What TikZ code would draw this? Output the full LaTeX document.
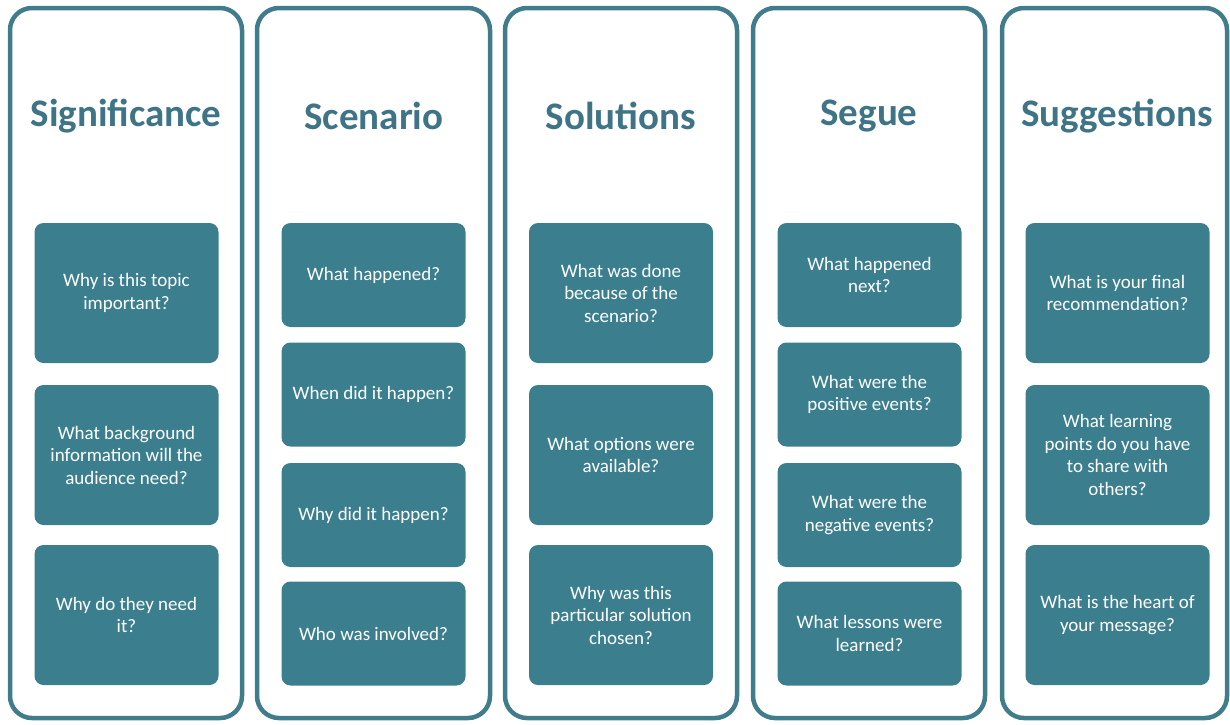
\documentclass[tikz,border=0pt]{standalone}
\usepackage{fontspec}
\setmainfont{Carlito}
\definecolor{framecol}{RGB}{64,124,139}
\definecolor{boxcol}{RGB}{59,127,143}
\definecolor{titlecol}{RGB}{62,116,134}
\tikzset{
  frame/.style={draw=framecol, line width=4.5pt, rounded corners=22pt},
  title/.style={text=titlecol, font=\bfseries\fontsize{39}{44}\selectfont},
  qbox/.style={fill=boxcol, rounded corners=9pt, minimum width=184pt,
    text=white, align=center, inner sep=2pt, font=\fontsize{19}{22.5}\selectfont},
  tall/.style={qbox, minimum height=140pt},
  short/.style={qbox, minimum height=104pt}
}
\begin{document}
\begin{tikzpicture}[x=1pt, y=-1pt]
  \useasboundingbox (0,0) rectangle (1230,724);

  % Draw the column frames
  \draw[frame] (10,8) rectangle (242,718);
  \draw[frame] (257,8) rectangle (490,718);
  \draw[frame] (505,8) rectangle (737,718);
  \draw[frame] (753,8) rectangle (985,718);
  \draw[frame] (1002,8) rectangle (1227,718);

  % Draw the titles
  \node[title] (tsig) at (126,116) {Significance};
  \node[title] (tsce) at (374,116) {Scenario};
  \node[title] (tsol) at (621,116) {Solutions};
  \node[title] (tseg) at (869,116) {Segue};
  \node[title] (tsug) at (1117,116) {Suggestions};

  % Significance
  \node[tall] (sig1) at (126.5,293) {Why is this topic\\important?};
  \node[tall] (sig2) at (126.5,455) {What background\\information will the\\audience need?};
  \node[tall] (sig3) at (126.5,615) {Why do they need\\it?};

  % Scenario
  \node[short] (sce1) at (373.5,275) {What happened?};
  \node[short] (sce2) at (373.5,394.5) {When did it happen?};
  \node[short] (sce3) at (373.5,515) {Why did it happen?};
  \node[short] (sce4) at (373.5,633.5) {Who was involved?};

  % Solutions
  \node[tall] (sol1) at (621,293) {What was done\\because of the\\scenario?};
  \node[tall] (sol2) at (621,455) {What options were\\available?};
  \node[tall] (sol3) at (621,615) {Why was this\\particular solution\\chosen?};

  % Segue
  \node[short] (seg1) at (869.5,275) {What happened\\next?};
  \node[short] (seg2) at (869.5,394.5) {What were the\\positive events?};
  \node[short] (seg3) at (869.5,515) {What were the\\negative events?};
  \node[short] (seg4) at (869.5,633.5) {What lessons were\\learned?};

  % Suggestions
  \node[tall] (sug1) at (1117.5,293) {What is your final\\recommendation?};
  \node[tall] (sug2) at (1117.5,455) {What learning\\points do you have\\to share with\\others?};
  \node[tall] (sug3) at (1117.5,615) {What is the heart of\\your message?};
\end{tikzpicture}
\end{document}
